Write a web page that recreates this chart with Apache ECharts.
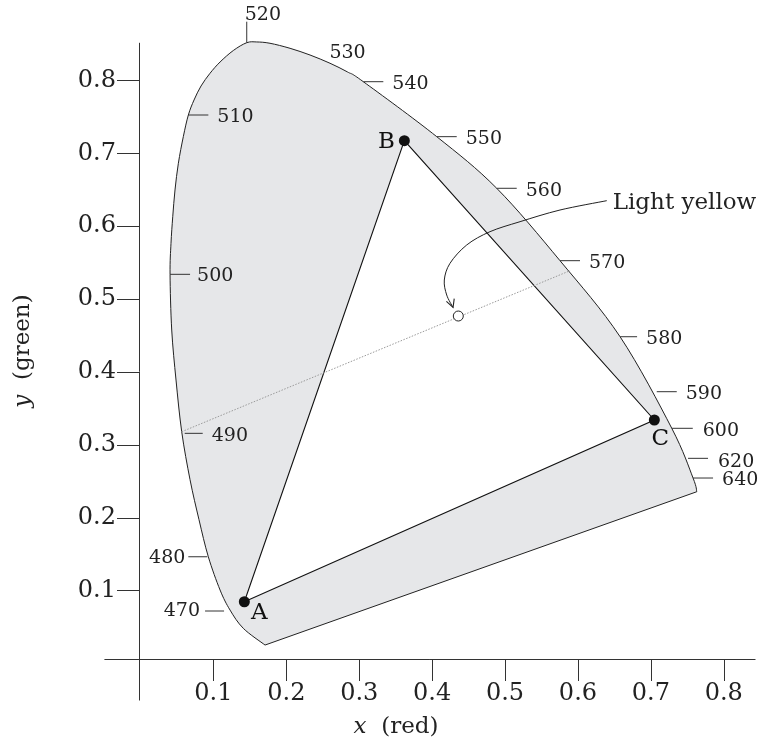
<!DOCTYPE html>
<html><head><meta charset="utf-8">
<script src="https://cdn.jsdelivr.net/npm/echarts@6/dist/echarts.min.js"></script>
<style>html,body{margin:0;padding:0;background:#fff}#c{width:760px;height:744px}</style>
</head><body><div id="c"></div>
<script>
// ---------- data ----------
const xTicks = [0.1, 0.2, 0.3, 0.4, 0.5, 0.6, 0.7, 0.8];
const yTicks = [0.1, 0.2, 0.3, 0.4, 0.5, 0.6, 0.7, 0.8];

// spectral locus outline (chromaticity x, y), from the violet tip upward and round to the red end
const locusX = [0.1708,0.1410,0.1228,0.1091,0.0930,0.0802,0.0679,0.0565,0.0487,0.0428,0.0405,0.0418,0.0442,0.0473,0.0519,0.0587,0.0656,0.0734,0.0830,0.0953,0.1091,0.1273,0.1457,0.1594,0.1776,0.2051,0.2325,0.2599,0.2840,0.3056,0.4063,0.4886,0.5754,0.6578,0.7287,0.7579,0.7630];
const locusY = [0.0255,0.0484,0.0735,0.1010,0.1466,0.1975,0.2524,0.3181,0.3890,0.4576,0.5340,0.5765,0.6130,0.6497,0.6863,0.7228,0.7525,0.7731,0.7923,0.8097,0.8252,0.8410,0.8517,0.8527,0.8509,0.8440,0.8348,0.8235,0.8115,0.7982,0.7228,0.6520,0.5527,0.4484,0.3228,0.2546,0.2358];

// wavelength marks (nm) and where they sit on the locus
const wavelengths = [470, 480, 490, 500, 510, 520, 530, 540, 550, 560, 570, 580, 590, 600, 620, 640];
const wlX = [0.1228,0.0930,0.0565,0.0405,0.0656,0.1457,0.2840,0.3056,0.4063,0.4886,0.5754,0.6578,0.7081,0.7287,0.7510,0.7579];
const wlY = [0.0722,0.1466,0.3159,0.5340,0.7525,0.8517,0.8115,0.7982,0.7228,0.6520,0.5527,0.4484,0.3730,0.3228,0.2816,0.2546];

// primaries
const primaryNames = ['A', 'B', 'C'];
const primaryX = [0.1424, 0.3619, 0.7048];
const primaryY = [0.0849, 0.7173, 0.3342];

// sample colour
const sampleName = 'Light yellow';
const sampleX = [0.4359];
const sampleY = [0.4768];

// dominant-wavelength line (490 nm through the sample to the locus)
const dominantX = [0.0565, 0.5892];
const dominantY = [0.3181, 0.5390];

// annotation arrow from the label to the sample
const arrowX = [0.6395,0.5754,0.5206,0.4794,0.4475,0.4245,0.4167,0.4200,0.4287];
const arrowY = [0.6350,0.6222,0.6062,0.5925,0.5743,0.5491,0.5262,0.5056,0.4885];

// ---------- rendering ----------
const SERIF = "'DejaVu Serif', serif";
const INK = '#222';

function toPx(api, xs, ys) { return xs.map((x, i) => api.coord([x, ys[i]])); }
function spline(pts) {
  let d = 'M' + pts[0][0] + ' ' + pts[0][1];
  for (let i = 0; i < pts.length - 1; i++) {
    const p0 = pts[i - 1] || pts[i], p1 = pts[i], p2 = pts[i + 1], p3 = pts[i + 2] || pts[i + 1];
    const c1x = p1[0] + (p2[0] - p0[0]) / 6, c1y = p1[1] + (p2[1] - p0[1]) / 6;
    const c2x = p2[0] - (p3[0] - p1[0]) / 6, c2y = p2[1] - (p3[1] - p1[1]) / 6;
    d += ' C' + c1x + ' ' + c1y + ' ' + c2x + ' ' + c2y + ' ' + p2[0] + ' ' + p2[1];
  }
  return d;
}

// layout of each wavelength tick (pixels)
const wlLayout = {
  470: {dir: 'left', gap: 6, len: 19, lg: 5, dy: 0},
  480: {dir: 'left', gap: 1, len: 19, lg: 3, dy: 1.7},
  490: {dir: 'right', gap: 3, len: 18, lg: 9, dy: 3},
  500: {dir: 'right', gap: 0, len: 20, lg: 7, dy: 2},
  520: {dir: 'up', len: 21},
  530: {dir: 'none'},
  580: {dir: 'right', gap: 0, len: 17, lg: 9, dy: 2.5},
  600: {dir: 'right', gap: 0, len: 21, lg: 10, dy: 2.7},
  620: {dir: 'right', gap: 0, len: 20, lg: 10, dy: 3.5}
};
const wlDefault = {dir: 'right', gap: 0, len: 20, lg: 9, dy: 2.5};

const primaryLabelOffset = {A: [15, 11], B: [-18, 1], C: [6, 19]};

const chart = echarts.init(document.getElementById('c'));
const option = {
  animation: false,
  backgroundColor: '#fff',
  grid: {left: 104.8, top: 43.2, width: 650.3, height: 656.9, containLabel: false, outerBoundsMode: 'none'},
  xAxis: {
    type: 'value', min: -0.049, max: 0.843, offset: -41.1,
    axisLine: {show: true, onZero: false, lineStyle: {color: '#333', width: 1}},
    axisTick: {show: true, length: 22, customValues: xTicks, lineStyle: {color: '#333', width: 1}},
    axisLabel: {show: true, customValues: xTicks, margin: 23, fontFamily: SERIF, fontSize: 24, color: INK,
      formatter: v => v.toFixed(1)},
    splitLine: {show: false}
  },
  yAxis: {
    type: 'value', min: -0.05, max: 0.851, offset: -34.2,
    axisLine: {show: true, onZero: false, lineStyle: {color: '#333', width: 1}},
    axisTick: {show: true, length: 22, customValues: yTicks, lineStyle: {color: '#333', width: 1}},
    axisLabel: {show: true, customValues: yTicks, margin: 23, fontFamily: SERIF, fontSize: 24, color: INK,
      padding: [5, 0, 0, 0], formatter: v => v.toFixed(1)},
    splitLine: {show: false}
  },
  graphic: [
    {type: 'text', x: 396, y: 727, style: {text: '{i|x}  (red)', fontFamily: SERIF, fontSize: 23, fill: INK,
      align: 'center', verticalAlign: 'middle',
      rich: {i: {fontStyle: 'italic', fontFamily: SERIF, fontSize: 23, fill: INK}}}},
    {type: 'text', x: 23, y: 351, rotation: Math.PI / 2, style: {text: '{i|y}  (green)', fontFamily: SERIF, fontSize: 23, fill: INK,
      align: 'center', verticalAlign: 'middle',
      rich: {i: {fontStyle: 'italic', fontFamily: SERIF, fontSize: 23, fill: INK}}}}
  ],
  series: [
    {
      type: 'custom', name: 'locus', z: 1, silent: true,
      data: [[locusX[0], locusY[0]]],
      renderItem: (params, api) => {
        const pts = toPx(api, locusX, locusY);
        return {type: 'path', shape: {pathData: spline(pts) + ' Z'},
          style: {fill: '#e6e7e9', stroke: '#222', lineWidth: 1}};
      }
    },
    {
      type: 'custom', name: 'gamut', z: 2, silent: true,
      data: [[primaryX[0], primaryY[0]]],
      renderItem: (params, api) => {
        const pts = toPx(api, primaryX, primaryY);
        return {type: 'polygon', shape: {points: pts},
          style: {fill: '#fff', stroke: '#111', lineWidth: 1.1}};
      }
    },
    {
      type: 'line', name: 'dominant', z: 3, silent: true, symbol: 'none',
      data: dominantX.map((x, i) => [x, dominantY[i]]),
      lineStyle: {color: '#9a9a9a', width: 1, type: [1.5, 1.5]}
    },
    {
      type: 'custom', name: 'arrow', z: 4, silent: true,
      data: [[arrowX[0], arrowY[0]]],
      renderItem: (params, api) => {
        const pts = toPx(api, arrowX, arrowY);
        const n = pts.length, tip = pts[n - 1], prev = pts[n - 2];
        const ang = Math.atan2(tip[1] - prev[1], tip[0] - prev[0]) + 0.12;
        const L = 9, h = 0.48;
        const w1 = [tip[0] - L * Math.cos(ang - h), tip[1] - L * Math.sin(ang - h)];
        const w2 = [tip[0] - L * Math.cos(ang + h), tip[1] - L * Math.sin(ang + h)];
        return {type: 'group', children: [
          {type: 'path', shape: {pathData: spline(pts)}, style: {fill: 'none', stroke: '#222', lineWidth: 1}},
          {type: 'polyline', shape: {points: [w1, tip, w2]}, style: {fill: 'none', stroke: '#222', lineWidth: 1.1}},
          {type: 'text', x: pts[0][0] + 6, y: pts[0][1] + 2.5,
            style: {text: sampleName, fontFamily: SERIF, fontSize: 23, fill: INK, align: 'left', verticalAlign: 'middle'}}
        ]};
      }
    },
    {
      type: 'custom', name: 'wavelengths', z: 4, silent: true,
      data: wavelengths.map((w, i) => [wlX[i], wlY[i], w]),
      encode: {x: 0, y: 1},
      renderItem: (params, api) => {
        const p = api.coord([api.value(0), api.value(1)]);
        const w = api.value(2);
        const L = wlLayout[w] || wlDefault;
        const txt = {fontFamily: SERIF, fontSize: 19, fill: INK, text: String(w)};
        const line = (a, b) => ({type: 'line', shape: {x1: a[0], y1: a[1], x2: b[0], y2: b[1]}, style: {stroke: '#333', lineWidth: 1}});
        if (L.dir === 'none') {
          return {type: 'text', x: p[0], y: p[1] - 19, style: Object.assign(txt, {align: 'center', verticalAlign: 'middle'})};
        }
        if (L.dir === 'up') {
          const top = p[1] - L.len;
          return {type: 'group', children: [
            line([p[0], p[1]], [p[0], top]),
            {type: 'text', x: p[0] - 2, y: top - 7, style: Object.assign(txt, {align: 'left', verticalAlign: 'middle'})}
          ]};
        }
        const s = L.dir === 'left' ? -1 : 1;
        const a = [p[0] + s * L.gap, p[1]], b = [p[0] + s * (L.gap + L.len), p[1]];
        return {type: 'group', children: [
          line(a, b),
          {type: 'text', x: b[0] + s * L.lg, y: p[1] + L.dy,
            style: Object.assign(txt, {align: s > 0 ? 'left' : 'right', verticalAlign: 'middle'})}
        ]};
      }
    },
    {
      type: 'scatter', name: 'sample', z: 5, silent: true,
      data: sampleX.map((x, i) => [x, sampleY[i]]),
      symbol: 'circle', symbolSize: 10,
      itemStyle: {color: '#fff', borderColor: '#222', borderWidth: 1, opacity: 1}
    },
    {
      type: 'scatter', name: 'primaries', z: 6, silent: true,
      data: primaryNames.map((n, i) => ({name: n, value: [primaryX[i], primaryY[i]],
        label: {offset: primaryLabelOffset[n]}})),
      symbol: 'circle', symbolSize: 11,
      itemStyle: {color: '#111', opacity: 1},
      label: {show: true, position: 'inside', formatter: '{b}', fontFamily: SERIF, fontSize: 23, color: '#111'}
    }
  ]
};
chart.setOption(option);
</script>
</body></html>
